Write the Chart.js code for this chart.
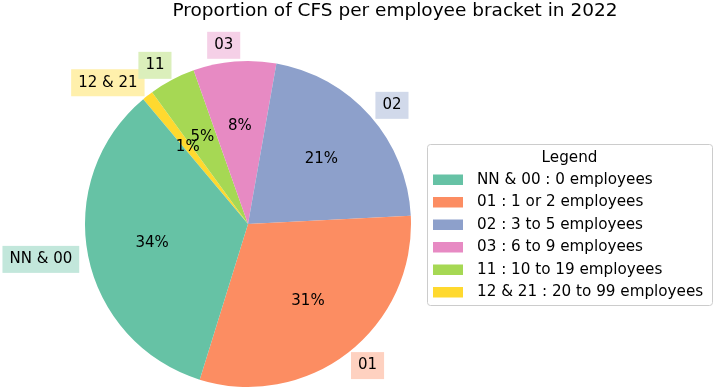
<!DOCTYPE html>
<html>
<head>
<meta charset="utf-8">
<script src="https://cdn.jsdelivr.net/npm/chart.js@4"></script>
<style>
  html, body { margin: 0; padding: 0; background: #fff; }
  #wrap { width: 714px; height: 390px; }
</style>
</head>
<body>
<div id="wrap"><canvas id="pieChart" width="714" height="390"></canvas></div>
<script>
        // datos del grafico (orden de matplotlib)
        const codes = ['NN & 00', '01', '02', '03', '11', '12 & 21'];
        const brackets = ['0 employees', '1 or 2 employees', '3 to 5 employees', '6 to 9 employees', '10 to 19 employees', '20 to 99 employees'];
        const shares = [34.1, 30.6, 21.4, 8.2, 4.6, 1.1];
        const colors = ['#66c2a5', '#fc8d62', '#8da0cb', '#e78ac3', '#a6d854', '#ffd92f'];
        const titleText = 'Proportion of CFS per employee bracket in 2022';

        const FONT = "'DejaVu Sans', sans-serif";

        // matplotlib dibuja en sentido antihorario, chart.js en horario: se invierte el orden
        const rev = arr => arr.slice().reverse();

        function lighten(hex, a) {
            const n = parseInt(hex.slice(1), 16);
            const r = n >> 16, g = (n >> 8) & 255, b = n & 255;
            const mix = c => Math.round(255 - a * (255 - c));
            return 'rgb(' + mix(r) + ',' + mix(g) + ',' + mix(b) + ')';
        }

        // etiquetas de fuera, porcentajes, titulo y leyenda
        const pieLabels = {
            id: 'pieLabels',
            afterDatasetsDraw(chart) {
                const ctx = chart.ctx;
                const meta = chart.getDatasetMeta(0);
                const ds = chart.data.datasets[0];
                const total = ds.data.reduce((a, b) => a + b, 0);
                ctx.save();
                ctx.font = '15px ' + FONT;
                ctx.textBaseline = 'middle';
                meta.data.forEach((arc, i) => {
                    const mid = (arc.startAngle + arc.endAngle) / 2;
                    const r = arc.outerRadius;
                    // porcentaje a 0.6 del radio
                    const px = arc.x + Math.cos(mid) * r * 0.6;
                    const py = arc.y + Math.sin(mid) * r * 0.6;
                    ctx.fillStyle = '#000';
                    ctx.textAlign = 'center';
                    ctx.fillText(Math.round(ds.data[i] / total * 100) + '%', px, py);

                    // codigo a 1.1 del radio con caja clara
                    const lx = arc.x + Math.cos(mid) * r * 1.1;
                    const ly = arc.y + Math.sin(mid) * r * 1.1;
                    const txt = chart.data.labels[i];
                    const w = ctx.measureText(txt).width;
                    const left = Math.cos(mid) >= 0;
                    const bx = left ? lx - 7 : lx - w - 7;
                    ctx.fillStyle = lighten(ds.backgroundColor[i], 0.4);
                    ctx.fillRect(bx, ly - 13.5, w + 14, 27);
                    ctx.fillStyle = '#000';
                    ctx.textAlign = left ? 'left' : 'right';
                    ctx.fillText(txt, lx, ly);
                });
                ctx.restore();
            },
            afterDraw(chart) {
                const ctx = chart.ctx;
                ctx.save();
                // titulo
                ctx.font = '18.5px ' + FONT;
                ctx.fillStyle = '#000';
                ctx.textAlign = 'center';
                ctx.textBaseline = 'alphabetic';
                ctx.fillText(titleText, 395, 16);

                // leyenda con marco
                const x0 = 427, y0 = 144, w = 285, h = 161;
                ctx.beginPath();
                ctx.roundRect(x0 + 0.5, y0 + 0.5, w, h, 3);
                ctx.fillStyle = 'rgba(255,255,255,0.8)';
                ctx.fill();
                ctx.strokeStyle = '#cccccc';
                ctx.lineWidth = 1;
                ctx.stroke();

                ctx.font = '15.2px ' + FONT;
                ctx.fillStyle = '#000';
                ctx.textBaseline = 'middle';
                ctx.fillText('Legend', x0 + w / 2, 158);
                ctx.textAlign = 'left';
                codes.forEach((c, i) => {
                    const y = 180 + i * 22.5;
                    ctx.fillStyle = colors[i];
                    ctx.fillRect(433, y - 5.5, 30, 10.5);
                    ctx.fillStyle = '#000';
                    ctx.fillText(c + ' : ' + brackets[i], 477, y);
                });
                ctx.restore();
            }
        };

        const ctx = document.getElementById('pieChart').getContext('2d');
        const pieChart = new Chart(ctx, {
            type: 'pie',
            data: {
                labels: rev(codes),
                datasets: [{
                    data: rev(shares),
                    backgroundColor: rev(colors),
                    borderWidth: 0,
                    hoverOffset: 0
                }]
            },
            options: {
                responsive: false,
                animation: false,
                devicePixelRatio: 1,
                rotation: -40,
                layout: {
                    padding: { left: 85, right: 303, top: 61, bottom: 3 }
                },
                plugins: {
                    legend: { display: false },
                    title: { display: false },
                    tooltip: { enabled: false }
                }
            },
            plugins: [pieLabels]
        });
</script>
</body>
</html>
